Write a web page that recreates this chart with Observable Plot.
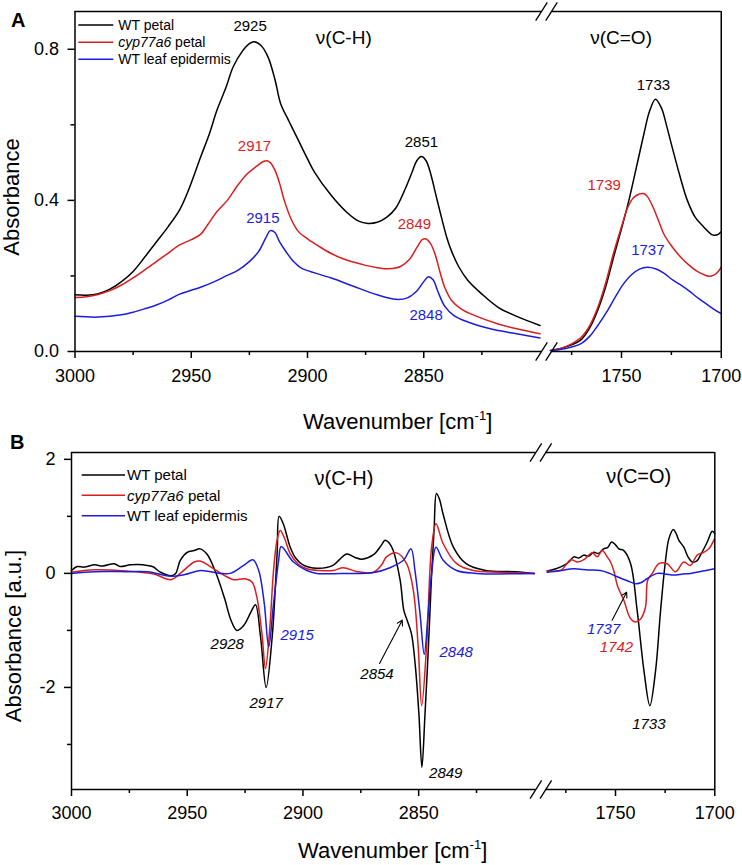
<!DOCTYPE html>
<html><head><meta charset="utf-8">
<script src="https://cdn.jsdelivr.net/npm/d3@7"></script>
<script src="https://cdn.jsdelivr.net/npm/@observablehq/plot@0.6"></script>
<style>
body{margin:0;background:#fff;}
#wrap{position:relative;width:742px;height:865px;font-family:"Liberation Sans",Arial,sans-serif;}
#wrap svg{display:block;overflow:visible;}
</style></head><body><div id="wrap"></div>
<script>
// ---------- series ----------
const seriesNames = ["WT petal", "cyp77a6 petal", "WT leaf epidermis"];
const seriesColors = ["#000000", "#d81e1e", "#1c1cdc"];

// ---------- Panel A : absorbance, [wavenumber, absorbance] ----------
const aWtPetalCH = [[3000,0.150],[2995,0.149],[2990,0.153],[2985,0.165],[2980,0.185],[2975,0.212],[2970,0.25],[2965,0.29],[2960,0.33],[2955,0.375],[2951,0.43],[2946,0.514],[2942,0.58],[2939,0.638],[2935,0.70],[2932,0.753],[2928,0.795],[2925,0.815],[2923,0.82],[2920,0.81],[2917,0.78],[2914,0.72],[2911.5,0.655],[2908,0.61],[2904,0.56],[2900,0.51],[2897,0.475],[2890,0.415],[2883,0.368],[2878,0.345],[2874,0.339],[2870,0.342],[2866,0.355],[2862,0.38],[2858,0.43],[2855,0.475],[2853,0.505],[2851,0.516],[2849,0.505],[2847,0.47],[2845,0.42],[2843,0.37],[2840,0.3],[2838,0.265],[2835,0.225],[2831,0.188],[2825,0.152],[2818,0.117],[2810,0.093],[2800,0.069]];
const aCypPetalCH = [[3000,0.143],[2995,0.145],[2990,0.151],[2985,0.161],[2980,0.176],[2975,0.195],[2970,0.216],[2965,0.238],[2960,0.26],[2955,0.282],[2950,0.296],[2946,0.31],[2943,0.335],[2939,0.37],[2934.5,0.40],[2930,0.44],[2926,0.47],[2922,0.49],[2919,0.503],[2917.5,0.505],[2916,0.50],[2914,0.48],[2912,0.445],[2910,0.40],[2907,0.35],[2904,0.318],[2900,0.298],[2895,0.278],[2890,0.26],[2885,0.246],[2880,0.236],[2875,0.228],[2870,0.222],[2865,0.219],[2860,0.225],[2856,0.245],[2853,0.275],[2850.5,0.297],[2849,0.298],[2847,0.285],[2845,0.255],[2843,0.21],[2841,0.17],[2838,0.135],[2834,0.113],[2828,0.095],[2818,0.073],[2810,0.06],[2800,0.047]];
const aLeafCH = [[3000,0.093],[2990,0.091],[2980,0.097],[2975,0.104],[2970,0.113],[2965,0.123],[2960,0.136],[2955,0.152],[2950,0.162],[2946,0.17],[2940,0.185],[2935,0.2],[2930,0.215],[2925,0.238],[2921,0.265],[2918,0.3],[2916,0.32],[2914,0.315],[2912,0.29],[2909,0.262],[2906,0.238],[2903,0.222],[2900,0.214],[2890,0.195],[2880,0.172],[2870,0.15],[2862,0.138],[2857,0.142],[2853,0.16],[2850,0.185],[2848,0.198],[2846,0.19],[2844,0.16],[2841,0.12],[2837,0.095],[2831,0.078],[2820,0.058],[2810,0.047],[2800,0.036]];
const aWtPetalCO = [[1785.6,0.003],[1780,0.009],[1775,0.018],[1770.5,0.03],[1766,0.062],[1762,0.108],[1758,0.17],[1754,0.249],[1750,0.325],[1746.3,0.40],[1742,0.50],[1738.8,0.575],[1736,0.635],[1733,0.668],[1730,0.645],[1727.5,0.6],[1725.4,0.557],[1721,0.47],[1717,0.40],[1713,0.355],[1708.7,0.329],[1705,0.31],[1703.7,0.308],[1701.5,0.31],[1700,0.318]];
const aCypPetalCO = [[1785.6,0.003],[1780,0.009],[1775,0.02],[1770.5,0.036],[1766,0.068],[1762,0.115],[1758,0.18],[1754,0.26],[1750,0.33],[1747,0.38],[1744,0.407],[1741,0.417],[1739,0.418],[1737,0.41],[1734,0.38],[1731,0.34],[1728.8,0.311],[1725,0.28],[1720.4,0.25],[1716,0.228],[1712,0.212],[1708,0.202],[1706,0.199],[1703.5,0.203],[1701.5,0.212],[1700,0.223]];
const aLeafCO = [[1785.6,0.002],[1780,0.006],[1775,0.012],[1770.5,0.02],[1766,0.04],[1762,0.068],[1757,0.108],[1753,0.145],[1749,0.179],[1745,0.203],[1741,0.218],[1737,0.223],[1733,0.219],[1729,0.208],[1724,0.188],[1720,0.175],[1716,0.16],[1712,0.143],[1708,0.128],[1704,0.113],[1700,0.10]];

// ---------- Panel B : second derivative, [wavenumber, absorbance a.u.] ----------
const bWtPetalCH = [[3000,0.05],[2997.5,0.12],[2994.5,0.11],[2990,0.15],[2986.5,0.13],[2981.5,0.17],[2979,0.12],[2974.5,0.15],[2969,0.15],[2965,0.12],[2961.5,0.02],[2957,-0.04],[2955,0.0],[2953,0.23],[2950,0.37],[2947,0.40],[2944.5,0.43],[2941.5,0.34],[2938,0.05],[2934,-0.42],[2931,-0.83],[2928.5,-1.0],[2925.5,-0.91],[2922.5,-0.68],[2920.5,-0.55],[2918.3,-1.12],[2915.9,-2.0],[2913.3,-1.12],[2912,-0.3],[2911.1,0.4],[2910.3,1.0],[2908.5,0.87],[2905.5,0.46],[2903,0.26],[2900,0.15],[2894,0.09],[2887,0.14],[2884,0.25],[2881,0.34],[2877.5,0.28],[2874.5,0.25],[2869.5,0.33],[2866,0.5],[2864.5,0.58],[2862.5,0.52],[2861,0.40],[2858,-0.12],[2856.4,-0.65],[2855,-0.82],[2853.1,-1.06],[2851.4,-1.64],[2849.9,-2.46],[2848.6,-3.4],[2847.3,-2.5],[2845.8,-1.3],[2844.5,-0.1],[2843.3,0.8],[2842.3,1.40],[2841,1.3],[2839.5,1.05],[2835,0.46],[2829.5,0.17],[2821,0.05],[2808,0.03],[2800,0.0]];
const bCypPetalCH = [[3000,0.02],[2990,0.064],[2976,0.04],[2964.5,-0.01],[2957,-0.11],[2953,0.0],[2947,0.2],[2944.5,0.216],[2938.5,0.08],[2934,-0.035],[2930,-0.11],[2925,-0.094],[2922,-0.15],[2920,-0.4],[2917.7,-1.06],[2916.2,-1.67],[2914.4,-1.0],[2912.7,0.05],[2911.2,0.58],[2909.8,0.75],[2908,0.62],[2905.5,0.345],[2902,0.16],[2898.3,0.08],[2893,0.05],[2887,0.05],[2882.5,0.1],[2876.7,0.03],[2869.6,0.02],[2866,0.15],[2863.9,0.29],[2859.5,0.36],[2855.2,0.17],[2852.3,-0.3],[2850.2,-1.29],[2848.7,-2.32],[2846.6,-1.29],[2844.4,0.46],[2842.5,0.87],[2839.4,0.52],[2833.6,0.17],[2826.4,0.05],[2815,0.02],[2800,0.0]];
const bLeafCH = [[3000,0.0],[2990,0.03],[2976,0.03],[2967,0.03],[2957,-0.05],[2951,-0.02],[2944.3,0.05],[2935.7,0.0],[2931.4,0.0],[2925.6,0.14],[2921.6,0.24],[2919.1,0.05],[2916.7,-0.53],[2914.8,-1.29],[2912.7,-0.53],[2910.5,0.23],[2909.4,0.47],[2904.1,0.2],[2898.3,0.05],[2894,0.0],[2880,0.0],[2870,0.01],[2862.4,0.1],[2856.6,0.23],[2853.3,0.43],[2851.6,0.05],[2849.4,-0.71],[2847.6,-1.42],[2845.9,-0.71],[2844.4,0.0],[2842.5,0.46],[2839.4,0.23],[2833.6,0.05],[2825,0.0],[2800,0.0]];
const bWtPetalCO = [[1784.4,0.04],[1780,0.08],[1776,0.14],[1773.5,0.2],[1771,0.29],[1768.5,0.27],[1766,0.32],[1763.5,0.3],[1761,0.37],[1758.5,0.35],[1756,0.43],[1754,0.45],[1752,0.55],[1750,0.5],[1748.3,0.43],[1745.8,0.40],[1742.4,0.17],[1739.1,-0.65],[1735.7,-1.70],[1732.7,-2.32],[1729.8,-1.70],[1727.3,-0.65],[1724.8,0.23],[1723.1,0.61],[1720.9,0.77],[1719.5,0.7],[1718.1,0.58],[1715.6,0.46],[1713.5,0.29],[1711.4,0.2],[1709,0.22],[1707.2,0.32],[1703.8,0.55],[1701.3,0.74],[1700,0.70]];
const bCypPetalCO = [[1784.4,0.04],[1777.6,0.05],[1772.5,0.24],[1769.1,0.2],[1765.9,0.24],[1761.7,0.36],[1759.2,0.29],[1756.7,0.40],[1754.2,0.29],[1752.5,0.2],[1750.9,0.05],[1748.8,-0.24],[1745.8,-0.47],[1742.8,-0.77],[1740.3,-0.85],[1737.4,-0.8],[1734.9,-0.59],[1733.8,-0.12],[1731.5,0.0],[1728.2,0.17],[1724,0.17],[1719.8,0.03],[1715.6,0.2],[1712.3,0.14],[1708.9,0.32],[1705.5,0.37],[1703,0.43],[1700.2,0.6]];
const bLeafCO = [[1784.4,0.02],[1778,0.05],[1771,0.08],[1764,0.06],[1757.6,0.05],[1753,0.0],[1749.1,-0.06],[1744,-0.13],[1740,-0.18],[1737,-0.16],[1734,-0.09],[1729,0.0],[1725,-0.01],[1720.6,-0.03],[1716,-0.01],[1712.3,0.0],[1706,0.04],[1700.2,0.08]];

// ---------- ticks ----------
const xMajorTicks = [3000, 2950, 2900, 2850, 1750, 1700];
const xMinorTicks = [2975, 2925, 2875, 2825, 1775, 1725];
const aYMajor = [0, 0.4, 0.8], aYMinor = [0.2, 0.6];
const bYMajor = [-2, 0, 2], bYMinor = [-3, -1, 1];

// ---------- annotations ----------
const aPeakLabels = [
  {t:"2925", wn:2924.7, v:0.860, s:0}, {t:"2917", wn:2922.8, v:0.543, s:1}, {t:"2915", wn:2919.2, v:0.353, s:2},
  {t:"2851", wn:2851.0, v:0.554, s:0}, {t:"2849", wn:2854.0, v:0.336, s:1}, {t:"2848", wn:2849.0, v:0.095, s:2},
  {t:"1733", wn:1734.0, v:0.704, s:0}, {t:"1739", wn:1758.7, v:0.441, s:1}, {t:"1737", wn:1736.8, v:0.267, s:2}
];
const bPeakLabels = [
  {t:"2928", wn:2932.7, v:-1.25, s:0}, {t:"2917", wn:2915.9, v:-2.27, s:0}, {t:"2915", wn:2902.5, v:-1.09, s:2},
  {t:"2854", wn:2868.0, v:-1.76, s:0}, {t:"2849", wn:2838.3, v:-3.51, s:0}, {t:"2848", wn:2833.8, v:-1.38, s:2},
  {t:"1737", wn:1756.0, v:-0.97, s:2}, {t:"1742", wn:1749.5, v:-1.29, s:1}, {t:"1733", wn:1733.2, v:-2.65, s:0}
];
const bArrows = [{wn1:2866.9, v1:-1.58, wn2:2857.1, v2:-0.82}, {wn1:1751.7, v1:-0.82, wn2:1744.4, v2:-0.33}];
const aRegions = [{t:"\u03bd(C-H)", wn:2884.4, v:0.830}, {t:"\u03bd(C=O)", wn:1750.2, v:0.830}];
const bRegions = [{t:"\u03bd(C-H)", wn:2882.3, v:1.66}, {t:"\u03bd(C=O)", wn:1738.3, v:1.69}];

// ---------- broken axis mapping ----------
function u(wn){ return wn > 2000 ? (3000 - wn) * 2.325 : 546.5 + (1750 - wn) * 1.995; }
const U_END = u(1700);
const FRAME_SEGS = [[0, 466.5], [476.5, U_END]];
const BREAKS = [466.5, 476.5];

function makePanel(p){
  const plotW = 742 - p.ml - p.mr, plotH = p.h - p.mt - p.mb;
  const kx = plotW / U_END, ky = plotH / (p.y[1] - p.y[0]);
  const marks = [];
  p.series.forEach((segs, i) => segs.forEach(seg => {
    marks.push(Plot.line(seg.map(([wn, v]) => ({x: u(wn), y: v})), {x: "x", y: "y", stroke: seriesColors[i], strokeWidth: 1.5, curve: "catmull-rom"}));
  }));
  for (const [a, b] of FRAME_SEGS) {
    marks.push(Plot.ruleY([p.y[0], p.y[1]], {x1: a, x2: b, strokeWidth: 1.5}));
  }
  marks.push(Plot.ruleX([0, U_END], {y1: p.y[0], y2: p.y[1], strokeWidth: 1.5}));
  const slashes = [];
  for (const c of BREAKS) for (const yv of p.y) slashes.push({x1: c - 5.8 / kx, y1: yv - 9.2 / ky, x2: c + 5.8 / kx, y2: yv + 9.2 / ky});
  marks.push(Plot.link(slashes, {x1: "x1", y1: "y1", x2: "x2", y2: "y2", strokeWidth: 1.3}));
  const fmt = new Map(xMajorTicks.map(w => [u(w), String(w)]));
  marks.push(Plot.axisX(xMajorTicks.map(u), {tickSize: 7, tickPadding: p.xpad, tickFormat: d => fmt.get(d), fontSize: 18, strokeWidth: 1.5, label: null}));
  marks.push(Plot.axisX(xMinorTicks.map(u), {tickSize: 4, tickFormat: () => "", strokeWidth: 1.5, label: null}));
  marks.push(Plot.axisY(p.yMajor, {tickSize: 7, tickPadding: 9, tickFormat: p.yFmt, fontSize: 18, strokeWidth: 1.5, label: null}));
  marks.push(Plot.axisY(p.yMinor, {tickSize: 4, tickFormat: () => "", strokeWidth: 1.5, label: null}));
  marks.push(Plot.text(p.peaks, {x: d => u(d.wn), y: "v", text: "t", fill: d => seriesColors[d.s], fontSize: 15, fontStyle: p.italic ? "italic" : "normal"}));
  marks.push(Plot.text(p.regions, {x: d => u(d.wn), y: "v", text: "t", fontSize: p.regionSize}));
  if (p.arrows) marks.push(Plot.arrow(p.arrows, {x1: d => u(d.wn1), y1: "v1", x2: d => u(d.wn2), y2: "v2", headLength: 8, strokeWidth: 1.1}));
  const svg = Plot.plot({
    width: 742, height: p.h, marginTop: p.mt, marginBottom: p.mb, marginLeft: p.ml, marginRight: p.mr,
    x: {domain: [0, U_END]}, y: {domain: p.y},
    style: {fontFamily: "Liberation Sans, Arial, sans-serif", background: "transparent", color: "#000", overflow: "visible"},
    marks
  });
  const g = d3.select(svg).append("g").attr("font-family", "Liberation Sans, Arial, sans-serif");
  g.append("text").attr("x", p.letterX).attr("y", p.letterY).attr("text-anchor", "start").attr("font-size", 20).attr("font-weight", "bold").text(p.letter);
  const xt = g.append("text").attr("x", p.ml + plotW / 2).attr("y", p.xTitleY).attr("text-anchor", "middle").attr("font-size", 22);
  xt.append("tspan").text("Wavenumber [cm");
  xt.append("tspan").attr("font-size", 13).attr("dy", -9).text("-1");
  xt.append("tspan").attr("dy", 9).text("]");
  g.append("text").attr("transform", `translate(${p.yTitleX},${p.yTitleY}) rotate(-90)`).attr("text-anchor", "middle").attr("font-size", 22).text(p.yTitle);
  seriesNames.forEach((name, i) => {
    const y = p.leg.y0 + i * p.leg.dy;
    g.append("line").attr("x1", p.leg.x1).attr("x2", p.leg.x2).attr("y1", y).attr("y2", y).attr("stroke", seriesColors[i]).attr("stroke-width", 1.5);
    const t = g.append("text").attr("x", p.leg.tx).attr("y", y).attr("dy", "0.35em").attr("text-anchor", "start").attr("font-size", p.leg.fs);
    if (name.startsWith("cyp77a6")) { t.append("tspan").attr("font-style", "italic").text("cyp77a6"); t.append("tspan").text(" petal"); }
    else t.text(name);
  });
  return svg;
}

const wrap = document.getElementById("wrap");
wrap.appendChild(makePanel({
  h: 440, mt: 11, mb: 89, ml: 74.5, mr: 742 - 74.5 - U_END, y: [0, 0.9], xpad: 10.5,
  series: [[aWtPetalCH, aWtPetalCO], [aCypPetalCH, aCypPetalCO], [aLeafCH, aLeafCO]],
  yMajor: aYMajor, yMinor: aYMinor, yFmt: d => d.toFixed(1),
  peaks: aPeakLabels, regions: aRegions, regionSize: 19, italic: false,
  letter: "A", letterX: 11, letterY: 27, xTitleY: 429, yTitleX: 19, yTitleY: 197, yTitle: "Absorbance",
  leg: {x1: 78.3, x2: 113.3, tx: 118.3, y0: 25, dy: 17.15, fs: 14}
}));
wrap.appendChild(makePanel({
  h: 425, mt: 12, mb: 76, ml: 71, mr: 742 - 714.3, y: [-3.79, 2.12], xpad: 10,
  series: [[bWtPetalCH, bWtPetalCO], [bCypPetalCH, bCypPetalCO], [bLeafCH, bLeafCO]],
  yMajor: bYMajor, yMinor: bYMinor, yFmt: d => String(d),
  peaks: bPeakLabels, regions: bRegions, regionSize: 20, italic: true, arrows: bArrows,
  letter: "B", letterX: 10, letterY: 8.5, xTitleY: 418, yTitleX: 21, yTitleY: 196, yTitle: "Absorbance [a.u.]",
  leg: {x1: 81.7, x2: 125, tx: 127, y0: 35, dy: 20.35, fs: 15}
}));
</script></body></html>
